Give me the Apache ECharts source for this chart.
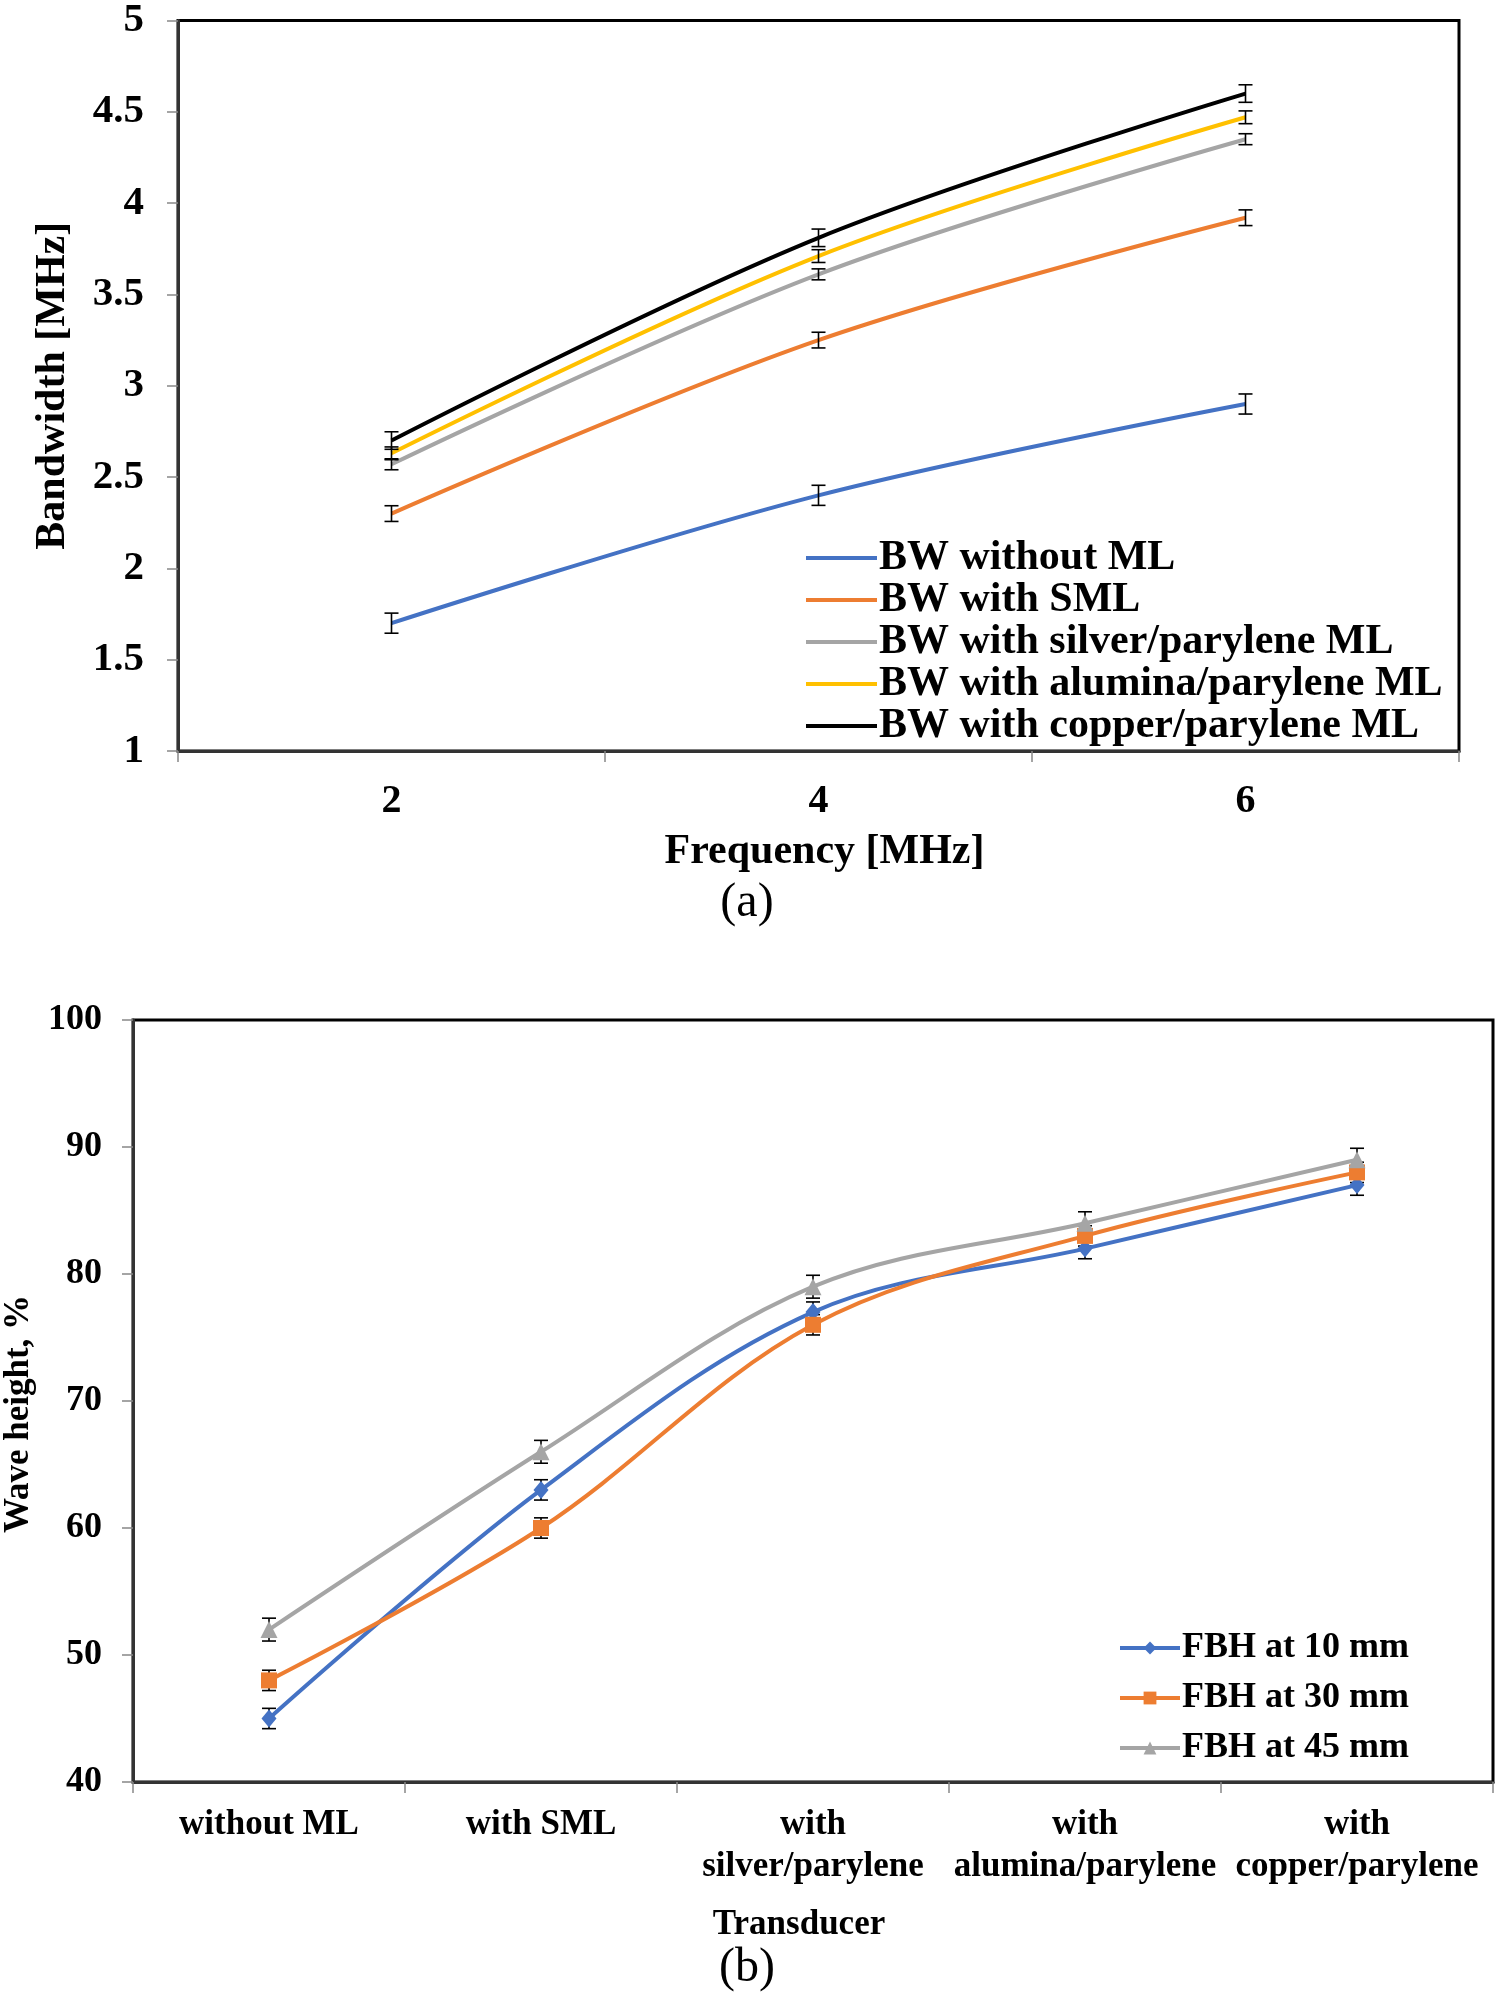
<!DOCTYPE html>
<html>
<head>
<meta charset="utf-8">
<script src="https://cdn.jsdelivr.net/npm/echarts@6/dist/echarts.min.js"></script>
<style>html,body{margin:0;padding:0;background:#fff;}#c{width:1499px;height:1994px;}</style>
</head>
<body>
<div id="c"></div>
<script>
// ---- Chart (a) data ----
const freqCats = ['2', '4', '6'];
const bwWithoutML = [1.70, 2.40, 2.90];
const bwSML = [2.30, 3.25, 3.92];
const bwSilver = [2.57, 3.61, 4.35];
const bwAlumina = [2.63, 3.71, 4.47];
const bwCopper = [2.70, 3.81, 4.60];
const errWithoutML = [0.055, 0.055, 0.055];
const errSML = [0.043, 0.043, 0.043];
const errSilver = [0.03, 0.03, 0.03];
const errAlumina = [0.035, 0.035, 0.035];
const errCopper = [0.048, 0.048, 0.048];
const namesA = ['BW without ML', 'BW with SML', 'BW with silver/parylene ML', 'BW with alumina/parylene ML', 'BW with copper/parylene ML'];

// ---- Chart (b) data ----
const transCats = ['without ML', 'with SML', 'with\nsilver/parylene', 'with\nalumina/parylene', 'with\ncopper/parylene'];
const fbh10 = [45, 63, 77, 82, 87];
const fbh30 = [48, 60, 76, 83, 88];
const fbh45 = [52, 66, 79, 84, 89];
const errFbh10 = [0.8, 0.8, 0.8, 0.8, 0.8];
const errFbh30 = [0.8, 0.8, 0.8, 0.8, 0.8];
const errFbh45 = [0.9, 0.9, 0.9, 0.9, 0.9];
const namesB = ['FBH at 10 mm', 'FBH at 30 mm', 'FBH at 45 mm'];

const FONT = "'Liberation Serif', 'Times New Roman', serif";
const colorsA = ['#4472C4', '#ED7D31', '#A5A5A5', '#FFC000', '#000000'];
const colorsB = ['#4472C4', '#ED7D31', '#A5A5A5'];

function errData(vals, errs) {
  return vals.map((v, i) => [i, v - errs[i], v + errs[i]]);
}
function errRender(params, api) {
  const x = api.value(0);
  const p1 = api.coord([x, api.value(1)]);
  const p2 = api.coord([x, api.value(2)]);
  const w = 7;
  const st = {stroke: '#000', lineWidth: 1.6};
  return {type: 'group', children: [
    {type: 'line', shape: {x1: p1[0], y1: p1[1], x2: p2[0], y2: p2[1]}, style: st},
    {type: 'line', shape: {x1: p1[0] - w, y1: p1[1], x2: p1[0] + w, y2: p1[1]}, style: st},
    {type: 'line', shape: {x1: p2[0] - w, y1: p2[1], x2: p2[0] + w, y2: p2[1]}, style: st}
  ]};
}

const seriesA = [bwWithoutML, bwSML, bwSilver, bwAlumina, bwCopper];
const errsA = [errWithoutML, errSML, errSilver, errAlumina, errCopper];
const seriesB = [fbh10, fbh30, fbh45];
const errsB = [errFbh10, errFbh30, errFbh45];
const symbolsB = ['diamond', 'rect', 'triangle'];
const symSizeB = [[15, 18], 16, 17];

const series = [];
seriesA.forEach((d, i) => {
  series.push({
    name: namesA[i], type: 'line', xAxisIndex: 0, yAxisIndex: 0, data: d,
    smooth: 0.35, symbol: 'none', lineStyle: {color: colorsA[i], width: 4},
    itemStyle: {color: colorsA[i]}, z: 2
  });
});
seriesA.forEach((d, i) => {
  series.push({
    type: 'custom', xAxisIndex: 0, yAxisIndex: 0, data: errData(d, errsA[i]),
    renderItem: errRender, encode: {x: 0, y: [1, 2]}, z: 3, silent: true
  });
});
seriesB.forEach((d, i) => {
  series.push({
    name: namesB[i], type: 'line', xAxisIndex: 1, yAxisIndex: 1, data: d,
    smooth: 0.35, symbol: symbolsB[i], symbolSize: symSizeB[i], showSymbol: true,
    lineStyle: {color: colorsB[i], width: 4}, itemStyle: {color: colorsB[i]}, z: 3
  });
});
seriesB.forEach((d, i) => {
  series.push({
    type: 'custom', xAxisIndex: 1, yAxisIndex: 1, data: errData(d, errsB[i]),
    renderItem: errRender, encode: {x: 0, y: [1, 2]}, z: 2, silent: true
  });
});

const chart = echarts.init(document.getElementById('c'), null, {width: 1499, height: 1994});
chart.setOption({
  backgroundColor: '#fff',
  animation: false,
  textStyle: {fontFamily: FONT},
  grid: [
    {left: 178, top: 19, right: 40, bottom: 1243, show: true, borderColor: '#000', borderWidth: 3, containLabel: false},
    {left: 133, top: 1020, right: 6, bottom: 212, show: true, borderColor: '#000', borderWidth: 3, containLabel: false}
  ],
  legend: [
    {
      data: namesA.map(n => ({name: n, icon: 'rect'})), orient: 'vertical', left: 806, top: 537,
      itemWidth: 71, itemHeight: 4, itemGap: 0, padding: 0,
      textStyle: {fontFamily: FONT, fontWeight: 'bold', fontSize: 42, color: '#000', lineHeight: 42, padding: [0, 0, 0, -3]}
    },
    {
      data: namesB, orient: 'vertical', left: 1118, top: 1623, itemWidth: 60, itemHeight: 16,
      itemGap: 0, padding: 0, lineStyle: {width: 4},
      textStyle: {fontFamily: FONT, fontWeight: 'bold', fontSize: 36, color: '#000', lineHeight: 50, padding: [0, 0, 0, -3]}
    }
  ],
  xAxis: [
    {
      gridIndex: 0, type: 'category', data: freqCats, boundaryGap: true,
      name: 'Frequency [MHz]', nameLocation: 'middle', nameGap: 80,
      nameTextStyle: {fontFamily: FONT, fontWeight: 'bold', fontSize: 42, color: '#000', padding: [0, 0, 0, 12]},
      axisLine: {lineStyle: {color: '#333', width: 3}},
      axisTick: {show: true, length: 11, lineStyle: {color: '#888', width: 1.5}},
      axisLabel: {fontFamily: FONT, fontWeight: 'bold', fontSize: 40, color: '#000', margin: 31},
      splitLine: {show: false}
    },
    {
      gridIndex: 1, type: 'category', data: transCats, boundaryGap: true,
      axisLine: {lineStyle: {color: '#333', width: 3}},
      axisTick: {show: true, length: 11, lineStyle: {color: '#888', width: 1.5}},
      axisLabel: {fontFamily: FONT, fontWeight: 'bold', fontSize: 35, color: '#000', margin: 22, interval: 0, lineHeight: 42},
      splitLine: {show: false}
    }
  ],
  yAxis: [
    {
      gridIndex: 0, type: 'value', min: 1, max: 5, interval: 0.5,
      name: 'Bandwidth [MHz]', nameLocation: 'middle', nameGap: 104,
      nameTextStyle: {fontFamily: FONT, fontWeight: 'bold', fontSize: 42, color: '#000'},
      axisLine: {show: true, lineStyle: {color: '#333', width: 3}},
      axisTick: {show: true, length: 11, lineStyle: {color: '#888', width: 1.5}},
      axisLabel: {fontFamily: FONT, fontWeight: 'bold', fontSize: 41, color: '#000', margin: 34},
      splitLine: {show: false}
    },
    {
      gridIndex: 1, type: 'value', min: 40, max: 100, interval: 10,
      axisLine: {show: true, lineStyle: {color: '#333', width: 3}},
      axisTick: {show: true, length: 11, lineStyle: {color: '#888', width: 1.5}},
      axisLabel: {fontFamily: FONT, fontWeight: 'bold', fontSize: 36, color: '#000', margin: 31},
      splitLine: {show: false}
    }
  ],
  graphic: [
    {type: 'text', x: 747, y: 903, style: {text: '(a)', font: "48px 'Liberation Serif', serif", fill: '#000', align: 'center', verticalAlign: 'middle', textAlign: 'center', textVerticalAlign: 'middle'}},
    {type: 'text', x: 747, y: 1968, style: {text: '(b)', font: "48px 'Liberation Serif', serif", fill: '#000', align: 'center', verticalAlign: 'middle', textAlign: 'center', textVerticalAlign: 'middle'}},
    {type: 'text', x: 799, y: 1925, style: {text: 'Transducer', font: "bold 35px 'Liberation Serif', serif", fill: '#000', align: 'center', verticalAlign: 'middle', textAlign: 'center', textVerticalAlign: 'middle'}},
    {type: 'text', x: 19, y: 1414, rotation: Math.PI / 2, style: {text: 'Wave height, %', font: "bold 35px 'Liberation Serif', serif", fill: '#000', align: 'center', verticalAlign: 'middle', textAlign: 'center', textVerticalAlign: 'middle'}}
  ],
  series: series
});
</script>
</body>
</html>
